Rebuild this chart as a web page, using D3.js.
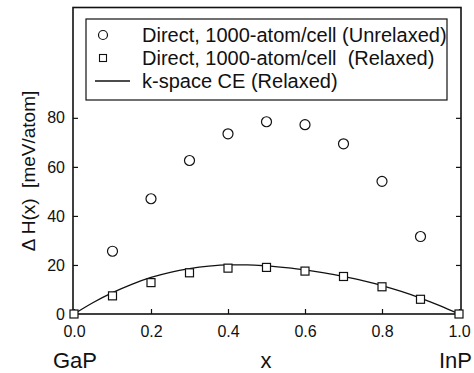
<!DOCTYPE html>
<html>
<head>
<meta charset="utf-8">
<script src="https://cdn.jsdelivr.net/npm/d3@7"></script>
<style>
  body { margin: 0; background: #fff; }
  svg text { font-family: "Liberation Sans", Arial, sans-serif; fill: #111; }
</style>
</head>
<body>
<svg id="chart"></svg>
<script>
// composition x and formation enthalpy (meV/atom)
const xPoints = [0.1, 0.2, 0.3, 0.4, 0.5, 0.6, 0.7, 0.8, 0.9];
const unrelaxed = [25.6, 47.0, 62.6, 73.5, 78.4, 77.2, 69.4, 54.1, 31.6];

const xRelaxed = [0.0, 0.1, 0.2, 0.3, 0.4, 0.5, 0.6, 0.7, 0.8, 0.9, 1.0];
const relaxed = [0, 7.4, 12.8, 16.8, 18.7, 19.0, 17.5, 15.3, 11.1, 6.0, 0];

const xCurve = [0, 0.05, 0.1, 0.15, 0.2, 0.25, 0.3, 0.35, 0.4, 0.45, 0.5,
                0.55, 0.6, 0.65, 0.7, 0.75, 0.8, 0.85, 0.9, 0.95, 1.0];
const ceCurve = [0, 4.7, 8.7, 12.1, 14.9, 17.0, 18.5, 19.5, 20.0, 20.0, 19.6,
                 18.9, 18.0, 16.8, 15.3, 13.6, 11.6, 9.2, 6.5, 3.4, 0];

const xTicks = [0, 0.2, 0.4, 0.6, 0.8, 1.0];
const yTicks = [0, 20, 40, 60, 80];

const legendLabels = [
  "Direct, 1000-atom/cell (Unrelaxed)",
  "Direct, 1000-atom/cell  (Relaxed)",
  "k-space CE (Relaxed)"
];

const width = 474, height = 373;
const svg = d3.select("#chart").attr("width", width).attr("height", height);

const frame = { left: 73, right: 461, top: 7.5, bottom: 314 };

const x = d3.scaleLinear().domain([0, 1]).range([74, 459]);
const y = d3.scaleLinear().domain([0, 125]).range([frame.bottom, frame.top]);

// frame
svg.append("rect")
  .attr("x", frame.left).attr("y", frame.top)
  .attr("width", frame.right - frame.left)
  .attr("height", frame.bottom - frame.top)
  .attr("fill", "none").attr("stroke", "#111").attr("stroke-width", 1.6);

// axes, ticks pointing inward
const tickLen = 5;
svg.append("g")
  .attr("transform", `translate(0,${frame.bottom})`)
  .call(d3.axisBottom(x).tickValues(xTicks).tickFormat(d3.format(".1f"))
    .tickSizeInner(-tickLen).tickSizeOuter(0).tickPadding(12))
  .call(g => g.select(".domain").remove())
  .call(g => g.selectAll("text").attr("font-size", 16).attr("fill", "#111"));

svg.append("g")
  .attr("transform", `translate(${frame.left},0)`)
  .call(d3.axisLeft(y).tickValues(yTicks)
    .tickSizeInner(-tickLen).tickSizeOuter(0).tickPadding(8))
  .call(g => g.select(".domain").remove())
  .call(g => g.selectAll("text").attr("font-size", 16).attr("fill", "#111"));

svg.append("g")
  .attr("transform", `translate(${frame.right},0)`)
  .call(d3.axisRight(y).tickValues(yTicks).tickFormat("")
    .tickSizeInner(-tickLen).tickSizeOuter(0))
  .call(g => g.select(".domain").remove());

svg.selectAll(".tick line").attr("stroke", "#111").attr("stroke-width", 1.2);

// CE curve
svg.append("path")
  .datum(xCurve.map((d, i) => [d, ceCurve[i]]))
  .attr("fill", "none").attr("stroke", "#111").attr("stroke-width", 1.3)
  .attr("d", d3.line().x(d => x(d[0])).y(d => y(d[1])).curve(d3.curveMonotoneX));

// relaxed squares
const sq = 8;
svg.selectAll(".sq")
  .data(xRelaxed.map((d, i) => [d, relaxed[i]]))
  .enter().append("rect")
  .attr("class", "sq")
  .attr("x", d => x(d[0]) - sq / 2).attr("y", d => y(d[1]) - sq / 2)
  .attr("width", sq).attr("height", sq)
  .attr("fill", "#fff").attr("stroke", "#111").attr("stroke-width", 1.2);

// unrelaxed circles
svg.selectAll(".circ")
  .data(xPoints.map((d, i) => [d, unrelaxed[i]]))
  .enter().append("circle")
  .attr("class", "circ")
  .attr("cx", d => x(d[0])).attr("cy", d => y(d[1]))
  .attr("r", 5)
  .attr("fill", "#fff").attr("stroke", "#111").attr("stroke-width", 1.2);

// legend
const legend = svg.append("g");
legend.append("rect")
  .attr("x", 86).attr("y", 19).attr("width", 361).attr("height", 81)
  .attr("fill", "#fff").attr("stroke", "#111").attr("stroke-width", 1.2);

const rowY = [35, 58, 81];
legend.append("circle").attr("cx", 103).attr("cy", rowY[0]).attr("r", 4.5)
  .attr("fill", "none").attr("stroke", "#111").attr("stroke-width", 1.2);
legend.append("rect").attr("x", 99.5).attr("y", rowY[1] - 3.5).attr("width", 7).attr("height", 7)
  .attr("fill", "none").attr("stroke", "#111").attr("stroke-width", 1.1);
legend.append("line").attr("x1", 95).attr("x2", 130).attr("y1", rowY[2]).attr("y2", rowY[2])
  .attr("stroke", "#111").attr("stroke-width", 1.3);

legend.selectAll(".lt")
  .data(legendLabels)
  .enter().append("text")
  .attr("class", "lt")
  .attr("x", 142).attr("y", (d, i) => rowY[i])
  .attr("dy", "0.36em")
  .attr("font-size", 20)
  .style("white-space", "pre")
  .text(d => d);

// axis titles
svg.append("text")
  .attr("transform", "translate(35,171) rotate(-90)")
  .attr("text-anchor", "middle")
  .attr("font-size", 19)
  .style("white-space", "pre")
  .text("\u0394 H(x)  [meV/atom]");

svg.append("text").attr("x", 75).attr("y", 368).attr("text-anchor", "middle")
  .attr("font-size", 22).text("GaP");
svg.append("text").attr("x", 266).attr("y", 368).attr("text-anchor", "middle")
  .attr("font-size", 22).text("x");
svg.append("text").attr("x", 472).attr("y", 368).attr("text-anchor", "end")
  .attr("font-size", 22).text("InP");
</script>
</body>
</html>
